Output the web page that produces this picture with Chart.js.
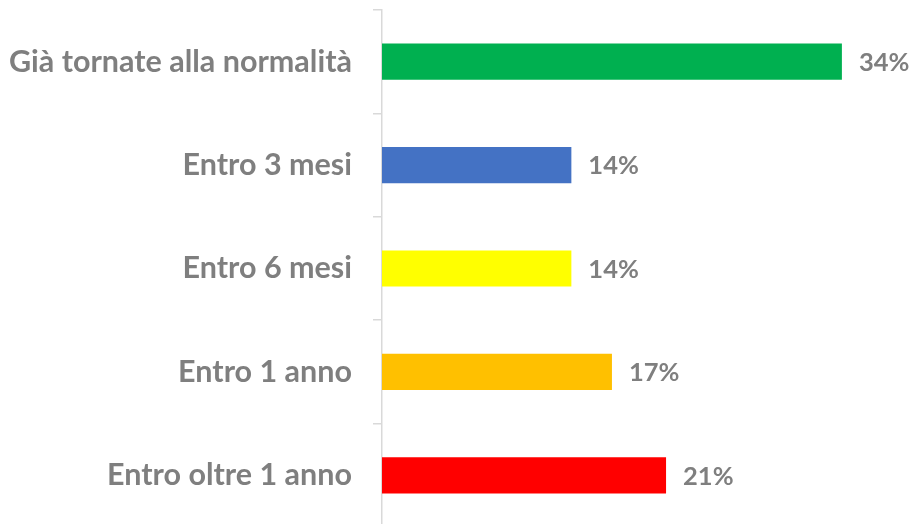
<!DOCTYPE html>
<html>
<head>
<meta charset="utf-8">
<script src="https://cdn.jsdelivr.net/npm/chart.js@4/dist/chart.umd.min.js"></script>
<style>
html,body{margin:0;padding:0;background:#fff;overflow:hidden;width:912px;height:524px;}
canvas{display:block;}
</style>
</head>
<body>
<canvas id="c" width="912" height="530"></canvas>
<script>
const categories = ["Già tornate alla normalità", "Entro 3 mesi", "Entro 6 mesi", "Entro 1 anno", "Entro oltre 1 anno"];
const values = [34, 14, 14, 17, 21];
const valueLabels = ["34%", "14%", "14%", "17%", "21%"];
const colors = ["#00b050", "#4472c4", "#ffff00", "#ffc000", "#ff0000"];

const textColor = "#7f7f7f";
const fontFamily = "Lato, 'Open Sans', sans-serif";

const valueLabelPlugin = {
  id: "valueLabels",
  afterDatasetsDraw(chart) {
    const ctx = chart.ctx;
    const meta = chart.getDatasetMeta(0);
    ctx.save();
    ctx.font = "bold 25.5px " + fontFamily;
    ctx.fillStyle = textColor;
    ctx.textAlign = "left";
    ctx.textBaseline = "middle";
    meta.data.forEach((bar, i) => {
      ctx.fillText(valueLabels[i], bar.x + 17, bar.y + 1);
    });
    ctx.restore();
  }
};

new Chart(document.getElementById("c"), {
  type: "bar",
  data: {
    labels: categories,
    datasets: [{
      data: values,
      backgroundColor: colors,
      borderWidth: 0,
      barPercentage: 0.35,
      categoryPercentage: 1.0
    }]
  },
  options: {
    indexAxis: "y",
    responsive: false,
    animation: false,
    layout: { padding: { top: 10, bottom: 3, right: 16, left: 0 } },
    plugins: { legend: { display: false }, tooltip: { enabled: false } },
    scales: {
      x: { display: false, min: 0, max: 38 },
      y: {
        afterFit(scale) { scale.width = 382; scale.paddingTop = 0; scale.paddingBottom = 0; },
        grid: { drawOnChartArea: false, drawTicks: true, tickLength: 9, color: "#d9d9d9", lineWidth: 1.5 },
        border: { display: true, color: "#d9d9d9", width: 1.5 },
        ticks: {
          color: textColor,
          padding: 21,
          font: { family: fontFamily, size: 30.5, weight: "bold" }
        }
      }
    }
  },
  plugins: [valueLabelPlugin]
});
</script>
</body>
</html>
